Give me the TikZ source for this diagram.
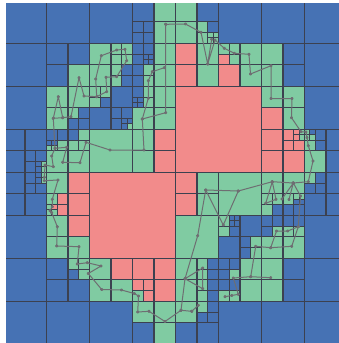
\documentclass[tikz,border=0pt]{standalone}
\usepackage{tikz}
\definecolor{qtBlue}{HTML}{4672B4}
\definecolor{qtGreen}{HTML}{80CBA2}
\definecolor{qtRed}{HTML}{F28B8B}
\definecolor{qtEdge}{HTML}{3C4150}
\definecolor{qtWalk}{HTML}{6E6E72}
\tikzset{
  qt cell/.style={draw=qtEdge, line width=1.1pt},
  qt void/.style={qt cell, fill=qtBlue},
  qt free/.style={qt cell, fill=qtGreen},
  qt wall/.style={qt cell, fill=qtRed},
  qt walk/.style={color=qtWalk, line width=1pt, line join=round,
    mark=*, mark size=1.1pt}
}

\begin{document}
\begin{tikzpicture}[x=1pt,y=-1pt]
\useasboundingbox (0,0) rectangle (339,343);
\fill[white] (0,0) rectangle (339,343);
\clip (6,3) rectangle (339,343);
\begin{scope}[shift={(3.5,0.3)},x=43pt,y=-43pt]
\foreach \x/\y/\s in {0/0/1, 1/0/1, 2/0/1, 3/0/0.5, 3/0.5/0.25, 3.25/0.5/0.25, 3/0.75/0.25, 3.25/0.75/0.25, 4.5/0/0.5, 4.75/0.5/0.25, 5/0/1, 6/0/1, 7/0/1,
  0/1/1, 1/1/0.5, 1.5/1/0.5, 1/1.5/0.5, 2.75/1.5/0.25, 2.75/1.75/0.25, 3/1/0.25, 3.25/1/0.25, 3/1.25/0.25, 3.25/1.25/0.125, 3.375/1.25/0.125, 3.25/1.375/0.125, 3.375/1.375/0.125, 3/1.5/0.25, 3/1.75/0.25, 6.5/1/0.5, 6.5/1.5/0.5, 7/1/1,
  0/2/1, 1.75/2.5/0.25, 1.5/2.75/0.25, 1.75/2.75/0.25, 2.25/2.25/0.25, 2.5/2/0.5, 2/2.5/0.5, 2.5/2.5/0.25, 2.75/2.5/0.25, 2.5/2.75/0.25, 2.75/2.75/0.125, 2.875/2.75/0.125, 2.75/2.875/0.125, 3/2/0.25, 3/2.25/0.125, 3.125/2.25/0.125, 3/2.375/0.125, 3.125/2.375/0.125, 7/2/1,
  0/3/0.5, 0.5/3/0.5, 0/3.5/0.5, 0.5/3.5/0.25, 0.75/3.5/0.25, 0.5/3.75/0.25, 0.75/3.75/0.125, 0.75/3.875/0.125, 1/3/0.25, 1.25/3/0.25, 1/3.25/0.125, 1.125/3.25/0.125, 1.5/3/0.25, 7.125/3/0.125, 7.25/3/0.25, 7.25/3.25/0.25, 7.5/3/0.5, 7.5/3.5/0.5,
  0/4/0.5, 0.5/4/0.25, 0.75/4/0.125, 0.75/4.125/0.125, 0.5/4.25/0.25, 0.75/4.25/0.25, 0/4.5/0.5, 0.5/4.5/0.5, 6.25/4.75/0.25, 6.75/4.625/0.125, 6.875/4.625/0.125, 6.5/4.75/0.25, 6.75/4.75/0.25, 7.25/4/0.25, 7/4.25/0.25, 7.25/4.25/0.25, 7.5/4/0.5, 7/4.5/0.5, 7.5/4.5/0.5,
  0/5/1, 5.25/5/0.125, 5.375/5/0.125, 5.25/5.125/0.125, 5.375/5.125/0.125, 5.25/5.25/0.25, 5.5/5/0.5, 5/5.5/0.5, 5.5/5.5/0.25, 5.5/5.75/0.25, 6/5/0.25, 6.25/5/0.25, 6/5.25/0.25, 6.5/5/0.25, 6.75/5/0.25, 7/5/1,
  0/6/1, 1/6/0.5, 1.5/6.25/0.25, 1/6.5/0.5, 1.5/6.5/0.5, 4.75/6/0.25, 4.75/6.25/0.25, 4.75/6.5/0.25, 4.75/6.75/0.25, 5/6/0.25, 5.25/6/0.25, 5/6.25/0.25, 5/6.5/0.25, 5.25/6.5/0.25, 6.5/6/0.5, 6.5/6.5/0.5, 7/6/1,
  0/7/1, 1/7/1, 2/7/1, 3/7.5/0.5, 4.75/7/0.25, 4.5/7.25/0.25, 4.75/7.25/0.25, 4/7.5/0.5, 4.5/7.5/0.5, 5/7/1, 6/7/1, 7/7/1}
  \draw[qt void] (\x,\y) rectangle ++(\s,\s);
\foreach \x/\y/\s in {3.5/0/0.5, 3.5/0.5/0.5, 4/0/0.5, 4/0.5/0.5, 4.5/0.5/0.25, 4.5/0.75/0.25, 4.75/0.75/0.125, 4.875/0.75/0.125, 4.75/0.875/0.125, 4.875/0.875/0.125,
  1.5/1.5/0.5, 2/1/0.5, 2.5/1/0.25, 2.75/1/0.25, 2.5/1.25/0.25, 2.75/1.25/0.25, 2/1.5/0.5, 2.5/1.5/0.25, 2.5/1.75/0.25, 3.5/1/0.5, 3.25/1.5/0.25, 3.25/1.75/0.25, 3.5/1.5/0.5, 4.5/1/0.5, 4.5/1.5/0.5, 5/1/0.25, 5.25/1/0.25, 5.25/1.25/0.25, 5.5/1/0.5, 5.5/1.5/0.5, 6/1/0.5, 6/1.5/0.5,
  1/2/0.5, 1.5/2/0.5, 1/2.5/0.5, 1.5/2.5/0.25, 2/2/0.25, 2.25/2/0.25, 2/2.25/0.25, 2.875/2.875/0.125, 3.25/2/0.25, 3.25/2.25/0.25, 3.5/2/0.5, 3/2.5/0.5, 3.5/2.5/0.5, 6/2/0.5, 6.5/2/0.5, 6.5/2.5/0.5,
  0.875/3.75/0.125, 0.875/3.875/0.125, 1/3.375/0.125, 1.125/3.375/0.125, 1.25/3.25/0.25, 1.75/3/0.25, 1.5/3.25/0.25, 1.75/3.25/0.25, 1/3.5/0.5, 1.5/3.5/0.5, 2/3/1, 3/3/0.5, 3/3.5/0.5, 6.875/3/0.125, 6.875/3.125/0.125, 7/3/0.125, 7/3.125/0.125, 7.125/3.125/0.125, 7/3.25/0.25, 7/3.5/0.5,
  0.875/4/0.125, 0.875/4.125/0.125, 1/4/0.5, 1/4.5/0.25, 1/4.75/0.125, 1/4.875/0.125, 1.125/4.875/0.125, 4.5/4/0.5, 4.5/4.5/0.5, 5/4/1, 6/4/0.5, 6.5/4/0.5, 6/4.5/0.25, 6.25/4.5/0.25, 6/4.75/0.25, 6.5/4.5/0.25, 6.75/4.5/0.125, 6.875/4.5/0.125, 7/4/0.25,
  1/5/0.5, 1/5.5/0.5, 1.5/5.5/0.5, 4/5/1, 5/5/0.25, 5/5.25/0.25, 5.75/5.5/0.25, 5.75/5.75/0.25, 6.25/5.25/0.25, 6.5/5.25/0.25, 6.75/5.25/0.25, 6/5.5/0.5, 6.5/5.5/0.5,
  1.5/6/0.25, 1.75/6/0.25, 1.75/6.25/0.25, 2/6/0.5, 2/6.5/0.5, 2.5/6.5/0.5, 3/6.75/0.25, 4/6/0.5, 4.5/6/0.25, 4.5/6.25/0.25, 4/6.5/0.5, 4.5/6.5/0.25, 4.5/6.75/0.25, 5.25/6.25/0.25, 5.5/6/0.5, 5.5/6.5/0.5, 5/6.75/0.25, 5.25/6.75/0.25, 6/6/0.5, 6/6.5/0.5,
  3/7/0.5, 3.5/7/0.5, 3.5/7.5/0.5, 4/7/0.5, 4.5/7/0.25}
  \draw[qt free] (\x,\y) rectangle ++(\s,\s);
\foreach \x/\y/\s in {4/1/0.5, 4/1.5/0.5, 5/1.25/0.25, 5/1.5/0.5, 4/2/2, 6/2.5/0.5, 3.5/3/0.5, 3.5/3.5/0.5, 6/3/0.5, 6.5/3/0.25, 6.75/3/0.125, 6.75/3.125/0.125, 6.5/3.25/0.25, 6.75/3.25/0.25, 6/3.5/0.5, 6.5/3.5/0.5,
  1.5/4/0.5, 1.25/4.5/0.25, 1.125/4.75/0.125, 1.25/4.75/0.25, 1.5/4.5/0.5, 2/4/2, 4/4/0.5, 4/4.5/0.5, 1.5/5/0.5, 2.5/6/0.5, 3/6/0.5, 3.5/6/0.5, 3/6.5/0.25, 3.25/6.5/0.25, 3.25/6.75/0.25, 3.5/6.5/0.5}
  \draw[qt wall] (\x,\y) rectangle ++(\s,\s);
\end{scope}
\draw[qt walk] plot coordinates {(165.7,24.3) (185.5,24) (201,32.3) (207.7,64) (211.7,39.3) (207.7,64) (215,40) (224.3,48.3) (234.3,53.3) (249,54.3) (250.5,74) (271,65.7) (271,98.5) (292,98.5) (291.5,117.7) (301,131.7) (306,132) (307,137.5) (308.3,145.7) (313,161) (308.3,181.7) (293.3,183) (289,199.5) (293.3,183) (282,199) (293.3,183) (272.3,181.7) (265.7,203.3) (276,199.3) (272.3,181.7) (238.3,191) (223.3,225) (205.7,190) (238.3,191) (205.7,190) (197.7,235.7) (185,278.7) (202.7,268) (202.7,288.7) (185,278.7) (181,310.3) (191.7,311.3) (198.3,305.3) (191.7,311.3) (181,310.3) (165,321.5) (149,311.3) (137.7,312) (138.5,296) (134.3,293.5) (121.5,290) (101.7,289.5) (88.3,273.5) (101,266) (87.3,262.7) (77.3,264) (79,246.7) (56.7,246) (57.3,226.7) (51.7,212.7) (50,210.7) (52.3,206.7) (52.3,199.3) (58,180) (44.3,180.7) (44.3,177.3) (45,165) (53.3,166.7) (51.7,156) (55,148.3) (66.7,147.3) (62.7,162.3) (80,162.7) (86,142.3) (110,150) (144,150) (142.3,119) (165.7,112.7) (165.7,24.3)};
\draw[qt walk] plot coordinates {(142.3,119) (148.3,98.3) (148.3,80.7) (152.3,71.7) (164.3,67.7)};
\draw[qt walk] plot coordinates {(55,148.3) (53.3,118.3) (58.3,96.7) (62.7,117.7) (53.3,118.3) (62.7,117.7) (71,116.7) (79,77.7) (84,96) (96.7,96.7) (95.7,79) (101.3,55.7) (116.7,50) (125,49.3) (126.7,60.7) (116.7,76.7) (106,77.3) (106.7,91.7) (96.7,96.7)};
\draw[qt walk] plot coordinates {(293.3,183) (300.5,196) (298.3,226.7) (287.7,231) (276.5,231) (270.7,247.7) (255.7,246.3) (250.7,276.7) (270.7,277.7)};
\draw[qt walk] plot coordinates {(298.3,226.7) (291.7,246.3) (270.7,247.7)};
\draw[qt walk] plot coordinates {(250.7,276.7) (233.3,278) (238.3,294.3) (231.7,295.5) (225,296.7)};
\end{tikzpicture}
\end{document}
